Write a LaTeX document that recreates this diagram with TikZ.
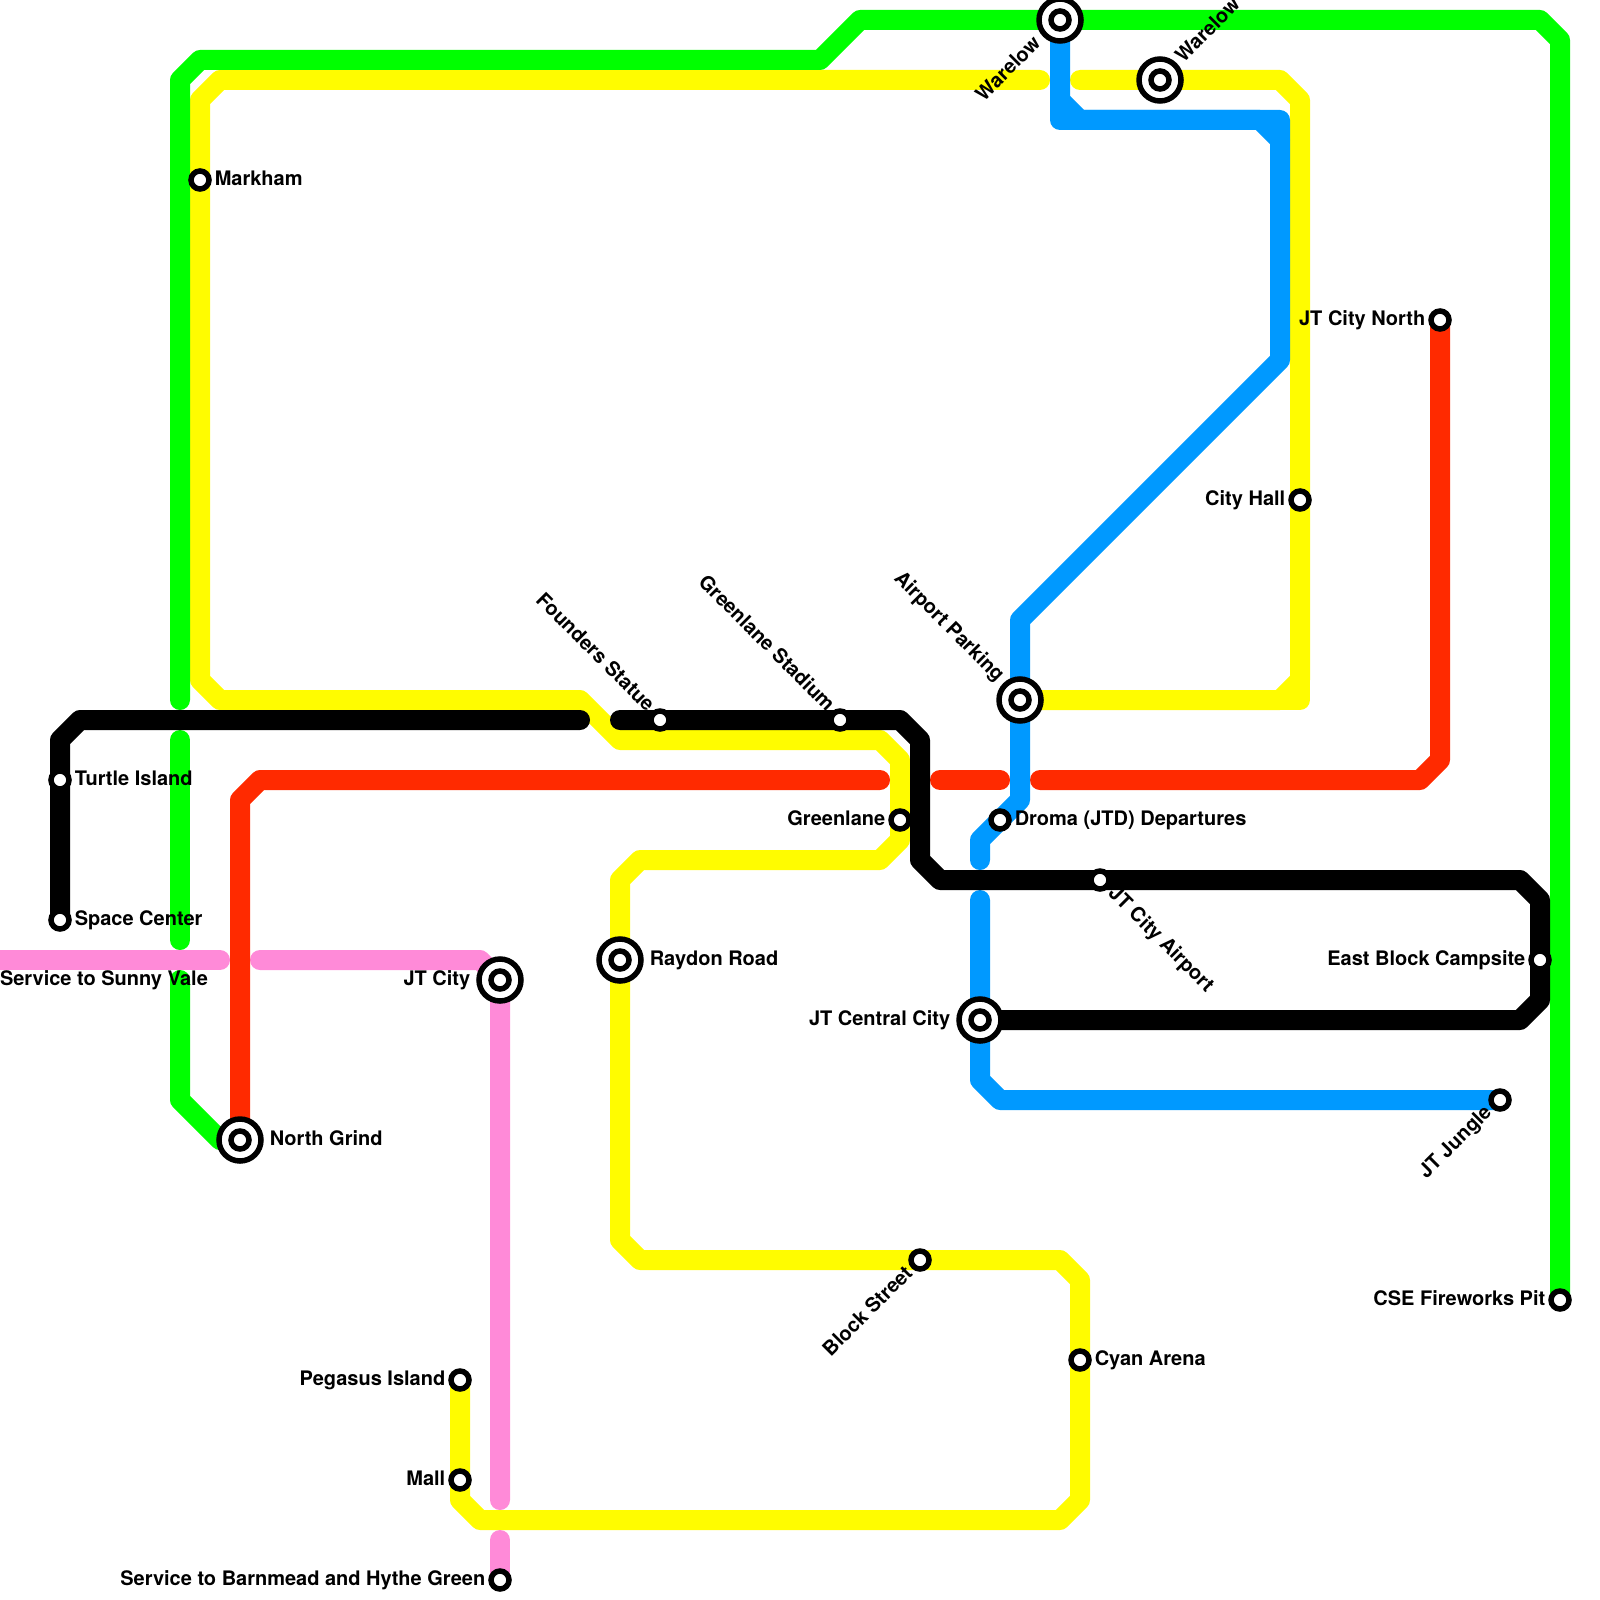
\documentclass[tikz,border=0pt]{standalone}
\usepackage{fontspec}
\setmainfont{TeX Gyre Heros}
\usetikzlibrary{backgrounds,positioning}
\definecolor{linegreen}{HTML}{00FF00}
\definecolor{lineyellow}{HTML}{FFFC00}
\definecolor{linered}{HTML}{FF2A00}
\definecolor{lineblue}{HTML}{0099FF}
\definecolor{linepink}{HTML}{FF8AD8}
\tikzset{
  route/.style={line width=20pt, line cap=round, line join=round},
  stop/.style={circle, draw=black, line width=5.5pt, fill=white, minimum size=18pt, inner sep=0pt},
  hub/.style={circle, draw=black, line width=5.5pt, fill=white, minimum size=42pt, inner sep=0pt,
    path picture={\draw[black, line width=5.5pt] (path picture bounding box.center) circle (9pt);}},
  tag/.style={inner sep=0pt, outer sep=0pt, text height=15pt, text depth=5pt,
    font=\fontsize{20}{24}\selectfont\bfseries}
}

\begin{document}
\begin{tikzpicture}[x=1pt, y=-1pt]
  \useasboundingbox (0,0) rectangle (1600,1600);

  \node[stop] (markham) at (200,180) {};
  \node[stop] (turtle) at (60,780) {};
  \node[stop] (space) at (60,920) {};
  \node[hub] (grind) at (240,1140) {};
  \node[hub] (jtcity) at (500,980) {};
  \node[hub] (raydon) at (620,960) {};
  \node[stop] (founders) at (660,720) {};
  \node[stop] (stadium) at (840,720) {};
  \node[stop] (greenlane) at (900,820) {};
  \node[hub] (parking) at (1020,700) {};
  \node[stop] (droma) at (1000,820) {};
  \node[stop] (airport) at (1100,880) {};
  \node[hub] (central) at (980,1020) {};
  \node[hub] (warelowa) at (1060,20) {};
  \node[hub] (warelowb) at (1160,80) {};
  \node[stop] (cityhall) at (1300,500) {};
  \node[stop] (north) at (1440,320) {};
  \node[stop] (campsite) at (1540,960) {};
  \node[stop] (jungle) at (1500,1100) {};
  \node[stop] (fireworks) at (1560,1300) {};
  \node[stop] (block) at (920,1260) {};
  \node[stop] (cyan) at (1080,1360) {};
  \node[stop] (pegasus) at (460,1380) {};
  \node[stop] (mall) at (460,1480) {};
  \node[stop] (barnmead) at (500,1580) {};
  \coordinate (sunny) at (-20,960);

  \begin{pgfonlayer}{background}
    \draw[route, lineyellow] (1040,80) -- (220,80) -- (200,100) -- (markham.center) -- (200,680) -- (220,700) -- (580,700) -- (620,740) -- (880,740) -- (900,760) -- (greenlane.center) -- (900,840) -- (880,860) -- (640,860) -- (620,880) -- (raydon.center) -- (620,1240) -- (640,1260) -- (block.center) -- (1060,1260) -- (1080,1280) -- (cyan.center) -- (1080,1500) -- (1060,1520) -- (480,1520) -- (460,1500) -- (mall.center) -- (pegasus.center);
    \draw[route, lineyellow] (1080,80) -- (warelowb.center) -- (1280,80) -- (1300,100) -- (cityhall.center) -- (1300,680) -- (1280,700) -- (parking.center);
    \draw[route, lineyellow] (1300,680) -- (1300,700) -- (1280,700);

    \draw[route, linegreen] (fireworks.center) -- (1560,40) -- (1540,20) -- (warelowa.center) -- (860,20) -- (820,60) -- (200,60) -- (180,80) -- (180,700);
    \draw[route, linegreen] (180,740) -- (180,940);
    \draw[route, linegreen] (180,980) -- (180,1100) -- (220,1140) -- (grind.center);

    \draw[route, linepink] (sunny) -- (220,960);
    \draw[route, linepink] (260,960) -- (480,960) -- (jtcity.center) -- (500,1500);
    \draw[route, linepink] (500,1540) -- (barnmead.center);

    \draw[route, linered] (grind.center) -- (240,800) -- (260,780) -- (880,780);
    \draw[route, linered] (940,780) -- (1000,780);
    \draw[route, linered] (1040,780) -- (1420,780) -- (1440,760) -- (north.center);

    \draw[route, lineblue] (warelowa.center) -- (1060,120) -- (1260,120) -- (1280,140) -- (1280,360) -- (1020,620) -- (parking.center) -- (1020,800) -- (droma.center) -- (980,840) -- (980,860);
    \draw[route, lineblue] (1060,100) -- (1080,120) -- (1280,120) -- (1280,140);
    \draw[route, lineblue] (980,900) -- (central.center) -- (980,1080) -- (1000,1100) -- (jungle.center);

    \draw[route, black] (space.center) -- (turtle.center) -- (60,740) -- (80,720) -- (580,720);
    \draw[route, black] (620,720) -- (founders.center) -- (stadium.center) -- (900,720) -- (920,740) -- (920,860) -- (940,880) -- (airport.center) -- (1520,880) -- (1540,900) -- (campsite.center) -- (1540,1000) -- (1520,1020) -- (central.center);
  \end{pgfonlayer}

  \node[tag, right=3pt of markham] (markhamtag) {Markham};
  \node[tag, right=3pt of turtle] (turtletag) {Turtle Island};
  \node[tag, right=3pt of space] (spacetag) {Space Center};
  \node[tag, right=6pt of grind] (grindtag) {North Grind};
  \node[tag, left=6pt of jtcity] (jtcitytag) {JT City};
  \node[tag, right=6pt of raydon] (raydontag) {Raydon Road};
  \node[tag, left=3pt of greenlane] (greenlanetag) {Greenlane};
  \node[tag, right=3pt of droma] (dromatag) {Droma (JTD) Departures};
  \node[tag, left=6pt of central] (centraltag) {JT Central City};
  \node[tag, left=3pt of cityhall] (cityhalltag) {City Hall};
  \node[tag, left=3pt of north] (northtag) {JT City North};
  \node[tag, left=3pt of campsite] (campsitetag) {East Block Campsite};
  \node[tag, left=3pt of fireworks] (fireworkstag) {CSE Fireworks Pit};
  \node[tag, right=3pt of cyan] (cyantag) {Cyan Arena};
  \node[tag, left=3pt of pegasus] (pegasustag) {Pegasus Island};
  \node[tag, left=3pt of mall] (malltag) {Mall};
  \node[tag, left=3pt of barnmead] (barnmeadtag) {Service to Barnmead and Hythe Green};
  \node[tag, anchor=west] (sunnytag) at (0,980) {Service to Sunny Vale};

  \node[tag, rotate=45, anchor=east] (warelowatag) at ([shift={(-22,21)}]warelowa) {Warelow};
  \node[tag, rotate=45, anchor=west] (warelowbtag) at ([shift={(20,-20)}]warelowb) {Warelow};
  \node[tag, rotate=-45, anchor=east] (founderstag) at ([shift={(-10,-11)}]founders) {Founders Statue};
  \node[tag, rotate=-45, anchor=east] (stadiumtag) at ([shift={(-10,-11)}]stadium) {Greenlane Stadium};
  \node[tag, rotate=-45, anchor=east] (parkingtag) at ([shift={(-20,-21)}]parking) {Airport Parking};
  \node[tag, rotate=-45, anchor=west] (airporttag) at ([shift={(11,11)}]airport) {JT City Airport};
  \node[tag, rotate=45, anchor=east] (blocktag) at ([shift={(-10,11)}]block) {Block Street};
  \node[tag, rotate=45, anchor=east] (jungletag) at ([shift={(-11,10)}]jungle) {JT Jungle};
\end{tikzpicture}
\end{document}
